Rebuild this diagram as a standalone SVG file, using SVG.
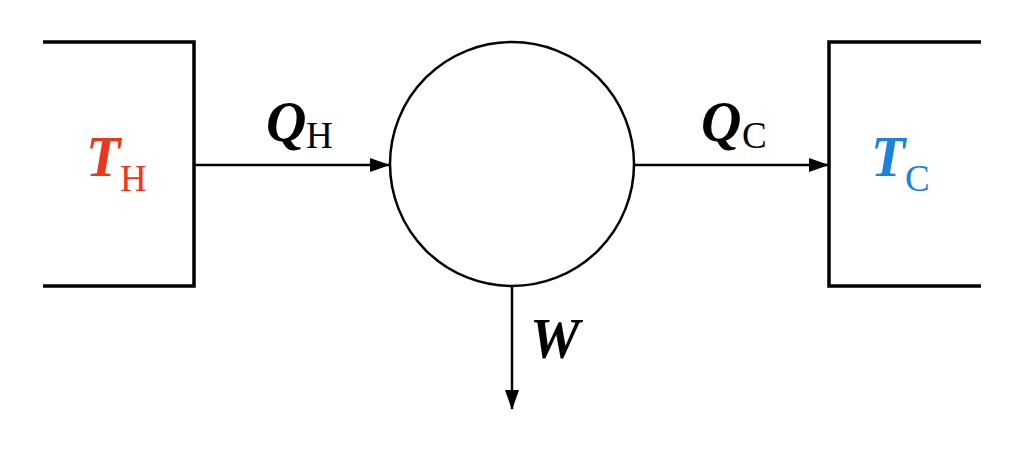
<svg xmlns="http://www.w3.org/2000/svg" width="1024" height="451" viewBox="0 0 1024 451">
<defs>
<style>
.ln{fill:none;stroke:#000;stroke-width:3.5}
.cn{fill:none;stroke:#000;stroke-width:2.5}
.mv{font-family:'Liberation Serif',serif;font-weight:700;font-style:italic;font-size:56px}
.sb{font-family:'Liberation Serif',serif;font-weight:400;font-size:37px}
</style>
<marker id="ah" viewBox="0 0 20 14" refX="19" refY="7" markerWidth="20" markerHeight="14" markerUnits="userSpaceOnUse" orient="auto">
<path d="M0,0 L20,7 L0,14 Z" fill="#000"/>
</marker>
</defs>
<rect width="1024" height="451" fill="#fff"/>
<g id="hot">
<path class="ln" d="M43,42 H194 V286 H43"/>
<text x="86" y="176" class="mv" fill="#e8391d">T</text>
<text x="120" y="191" class="sb" fill="#e8391d">H</text>
</g>
<g id="engine">
<circle class="cn" cx="512" cy="164" r="122"/>
</g>
<g id="cold">
<path class="ln" d="M981,42 H829 V286 H981"/>
<text x="871" y="176" class="mv" fill="#1b82e0">T</text>
<text x="905" y="191" class="sb" fill="#1b82e0">C</text>
</g>
<g id="connectors">
<line class="cn" x1="195" y1="165" x2="389" y2="165" marker-end="url(#ah)"/>
<line class="cn" x1="634" y1="165" x2="828" y2="165" marker-end="url(#ah)"/>
<line class="cn" x1="512" y1="286" x2="512" y2="409" marker-end="url(#ah)"/>
</g>
<g id="labels">
<text x="266" y="141" class="mv">Q</text>
<text x="306" y="148" class="sb">H</text>
<text x="701" y="141" class="mv">Q</text>
<text x="742" y="148" class="sb">C</text>
<text x="530" y="358" class="mv">W</text>
</g>
</svg>
